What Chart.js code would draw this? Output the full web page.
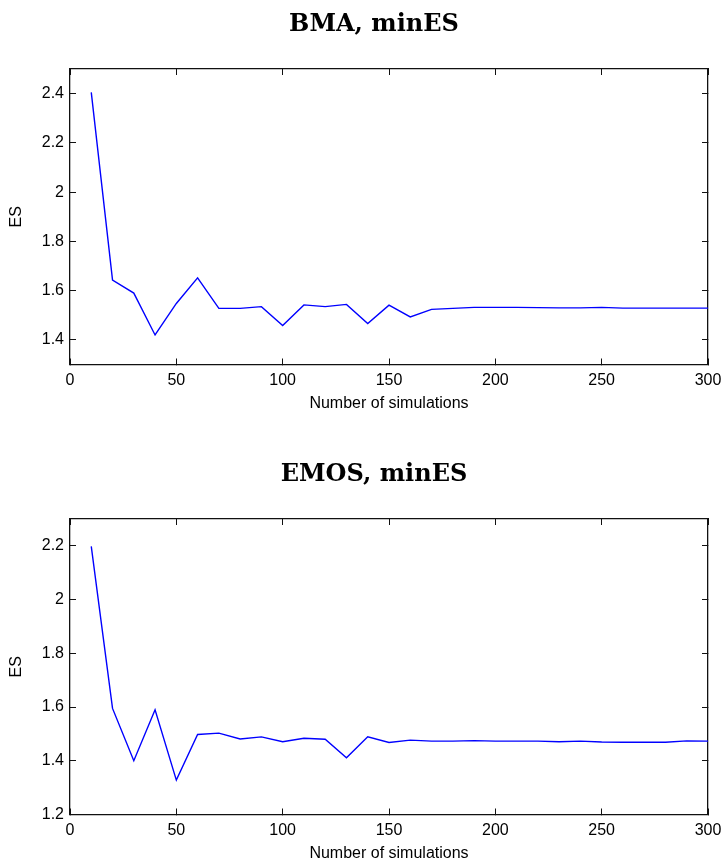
<!DOCTYPE html>
<html>
<head>
<meta charset="utf-8">
<title>ES vs number of simulations</title>
<script src="https://cdn.jsdelivr.net/npm/chart.js@4.4.0/dist/chart.umd.min.js"></script>
<style>
  html, body { margin: 0; padding: 0; background: #fff; overflow: hidden; }
  body { width: 726px; height: 864px; position: relative; }
  canvas { position: absolute; left: 0; }
  #bmaChart { top: 0; }
  #emosChart { top: 450px; }
</style>
</head>
<body>
<canvas id="bmaChart" width="748" height="450"></canvas>
<canvas id="emosChart" width="748" height="450"></canvas>
<script>
// Number of simulations on the x axis
const simRuns = [10, 20, 30, 40, 50, 60, 70, 80, 90, 100,
                 110, 120, 130, 140, 150, 160, 170, 180, 190, 200,
                 210, 220, 230, 240, 250, 260, 270, 280, 290, 300];

// Energy score, BMA with minES
const bmaES = [2.405, 1.643, 1.590, 1.420, 1.548, 1.652, 1.528, 1.528, 1.535, 1.458,
               1.542, 1.535, 1.544, 1.466, 1.541, 1.493, 1.524, 1.528, 1.532, 1.532,
               1.532, 1.531, 1.530, 1.530, 1.532, 1.529, 1.529, 1.529, 1.529, 1.529];

// Energy score, EMOS with minES
const emosES = [2.198, 1.595, 1.400, 1.590, 1.328, 1.498, 1.503, 1.481, 1.489, 1.471,
                1.484, 1.480, 1.411, 1.489, 1.468, 1.477, 1.473, 1.473, 1.475, 1.473,
                1.473, 1.473, 1.471, 1.473, 1.470, 1.469, 1.469, 1.469, 1.474, 1.473];

const bmaYTicks = [1.4, 1.6, 1.8, 2, 2.2, 2.4];
const emosYTicks = [1.2, 1.4, 1.6, 1.8, 2, 2.2];

const axisColor = '#111';
const tickFont = { family: 'Liberation Sans, Arial, sans-serif', size: 16 };

// MATLAB-ish box: border on every side, short ticks pointing inwards
function gridOpts() {
    return {
        drawOnChartArea: false,
        drawTicks: true,
        tickLength: -6,
        color: axisColor,
        lineWidth: 1
    };
}
function borderOpts() {
    return { display: true, color: axisColor, width: 1.3 };
}

function makeChart(canvasId, titleText, values, yMin, yMax, yTicks) {
    const setYTicks = scale => {
        scale.ticks = yTicks.map(v => ({ value: v }));
    };
    return new Chart(document.getElementById(canvasId), {
        type: 'line',
        data: {
            datasets: [{
                data: simRuns.map((n, i) => ({ x: n, y: values[i] })),
                borderColor: '#0000ff',
                borderWidth: 1.4,
                pointRadius: 0,
                tension: 0,
                fill: false
            }]
        },
        options: {
            responsive: false,
            animation: false,
            layout: { padding: { left: 40, right: 40, top: 0, bottom: 0 } },
            plugins: {
                legend: { display: false },
                tooltip: { enabled: false },
                title: {
                    display: true,
                    text: titleText,
                    color: '#000',
                    font: { family: 'DejaVu Serif, serif', size: 24, weight: 'bold' },
                    padding: { top: 10, bottom: 30.2 }
                }
            },
            scales: {
                x: {
                    type: 'linear',
                    position: 'bottom',
                    min: 0,
                    max: 300,
                    ticks: { stepSize: 50, color: '#000', font: tickFont, padding: 12, maxRotation: 0 },
                    grid: gridOpts(),
                    border: borderOpts(),
                    title: {
                        display: true,
                        text: 'Number of simulations',
                        color: '#000',
                        font: tickFont,
                        padding: { top: 0, bottom: 37 }
                    },
                    afterFit: scale => { scale.height = 85.5; }
                },
                xTop: {
                    type: 'linear',
                    position: 'top',
                    min: 0,
                    max: 300,
                    ticks: { stepSize: 50, display: false },
                    grid: gridOpts(),
                    border: borderOpts(),
                    afterFit: scale => { scale.height = 0; }
                },
                y: {
                    type: 'linear',
                    position: 'left',
                    min: yMin,
                    max: yMax,
                    afterBuildTicks: setYTicks,
                    ticks: {
                        color: '#000',
                        font: tickFont,
                        padding: 12,
                        callback: v => String(v)
                    },
                    grid: gridOpts(),
                    border: borderOpts(),
                    title: {
                        display: true,
                        text: 'ES',
                        color: '#000',
                        font: tickFont,
                        padding: { top: -33, bottom: 0 }
                    },
                    afterFit: scale => { scale.width = 30; }
                },
                yRight: {
                    type: 'linear',
                    position: 'right',
                    min: yMin,
                    max: yMax,
                    afterBuildTicks: setYTicks,
                    ticks: { display: false },
                    grid: gridOpts(),
                    border: borderOpts(),
                    afterFit: scale => { scale.width = 0; }
                }
            }
        }
    });
}

makeChart('bmaChart', 'BMA, minES', bmaES, 1.3, 2.5, bmaYTicks);
makeChart('emosChart', 'EMOS, minES', emosES, 1.2, 2.3, emosYTicks);
</script>
</body>
</html>
